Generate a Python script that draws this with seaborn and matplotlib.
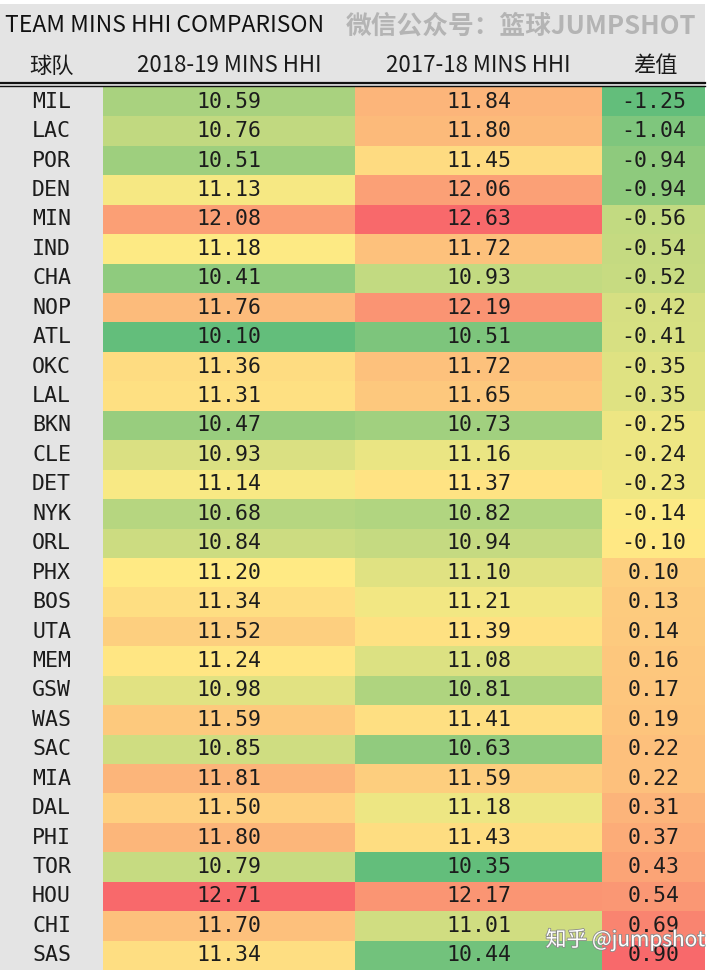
import numpy as np
import pandas as pd
import seaborn as sns
import matplotlib.pyplot as plt
from matplotlib.colors import LinearSegmentedColormap, TwoSlopeNorm
from matplotlib.patches import Rectangle
from matplotlib.lines import Line2D
import matplotlib.patheffects as pe

teams = ['MIL', 'LAC', 'POR', 'DEN', 'MIN', 'IND', 'CHA', 'NOP', 'ATL', 'OKC',
         'LAL', 'BKN', 'CLE', 'DET', 'NYK', 'ORL', 'PHX', 'BOS', 'UTA', 'MEM',
         'GSW', 'WAS', 'SAC', 'MIA', 'DAL', 'PHI', 'TOR', 'HOU', 'CHI', 'SAS']
hhi_1819 = [10.59, 10.76, 10.51, 11.13, 12.08, 11.18, 10.41, 11.76, 10.10, 11.36,
            11.31, 10.47, 10.93, 11.14, 10.68, 10.84, 11.20, 11.34, 11.52, 11.24,
            10.98, 11.59, 10.85, 11.81, 11.50, 11.80, 10.79, 12.71, 11.70, 11.34]
hhi_1718 = [11.84, 11.80, 11.45, 12.06, 12.63, 11.72, 10.93, 12.19, 10.51, 11.72,
            11.65, 10.73, 11.16, 11.37, 10.82, 10.94, 11.10, 11.21, 11.39, 11.08,
            10.81, 11.41, 10.63, 11.59, 11.18, 11.43, 10.35, 12.17, 11.01, 10.44]
diff = [-1.25, -1.04, -0.94, -0.94, -0.56, -0.54, -0.52, -0.42, -0.41, -0.35,
        -0.35, -0.25, -0.24, -0.23, -0.14, -0.10, 0.10, 0.13, 0.14, 0.16,
        0.17, 0.19, 0.22, 0.22, 0.31, 0.37, 0.43, 0.54, 0.69, 0.90]
col_labels = ['2018-19 MINS HHI', '2017-18 MINS HHI', '差值']

W, H = 720, 973
cjk = ['Noto Sans CJK SC', 'DejaVu Sans']
mono = ['DejaVu Sans Mono']

df = pd.DataFrame({col_labels[0]: hhi_1819, col_labels[1]: hhi_1718,
                   col_labels[2]: diff}, index=teams)

# red-yellow-green scale like Excel conditional formatting
cmap = LinearSegmentedColormap.from_list('ryg', ['#63BE7B', '#FFEB84', '#F8696B'])


def fx(px):
    return px / W


def fy(py):
    return 1 - py / H


fig = plt.figure(figsize=(W / 100, H / 100), dpi=100)
fig.patch.set_facecolor('white')
fig.add_artist(Rectangle((0, fy(970)), fx(705), fy(4) - fy(970),
                         transform=fig.transFigure, facecolor='#e4e4e4',
                         edgecolor='none', zorder=-5))

# column edges in pixels
edges = [103, 355, 602, 705]
top, bottom = 87, 970
for i, col in enumerate(col_labels):
    ax = fig.add_axes([fx(edges[i]), fy(bottom), fx(edges[i + 1] - edges[i]),
                       (bottom - top) / H])
    vals = df[[col]]
    norm = TwoSlopeNorm(vmin=vals[col].min(), vcenter=vals[col].median(),
                        vmax=vals[col].max())
    sns.heatmap(vals, ax=ax, cmap=cmap, norm=norm, cbar=False,
                annot=True, fmt='.2f',
                annot_kws={'color': '#1c1c1c', 'fontsize': 15.5, 'family': mono},
                xticklabels=False, yticklabels=(teams if i == 0 else False))
    ax.set_xlabel('')
    ax.set_ylabel('')
    if i == 0:
        ax.tick_params(axis='y', length=0, pad=37)
        for lab in ax.get_yticklabels():
            lab.set_ha('center')
            lab.set_rotation(0)
            lab.set_fontsize(15.5)
            lab.set_family(mono)
            lab.set_color('#1c1c1c')

# title, watermark and header
fig.text(fx(5), fy(26), 'TEAM MINS HHI COMPARISON', family=cjk, fontsize=16.5,
         color='#111111', va='center', ha='left')
fig.text(fx(346), fy(26), '微信公众号：篮球JUMPSHOT', family=cjk, fontsize=18.5,
         fontweight='bold', color='#b4b4b4', va='center', ha='left')
header_x = [52, 229, 478, 655]
header_txt = ['球队'] + col_labels
for x, t in zip(header_x, header_txt):
    fig.text(fx(x), fy(66), t, family=cjk, fontsize=16, color='#1a1a1a',
             va='center', ha='center')

fig.add_artist(Line2D([0, fx(705)], [fy(82.5), fy(82.5)], color='#111111',
                      linewidth=1.6, transform=fig.transFigure))
fig.add_artist(Line2D([0, fx(705)], [fy(85.5), fy(85.5)], color='#111111',
                      linewidth=1.0, transform=fig.transFigure))

fig.text(fx(705), fy(940), '知乎 @jumpshot', family=cjk, fontsize=15,
         color='white', va='center', ha='right',
         path_effects=[pe.withStroke(linewidth=1.2, foreground='#8a8a8a')])

fig.savefig('out.png', dpi=100)
